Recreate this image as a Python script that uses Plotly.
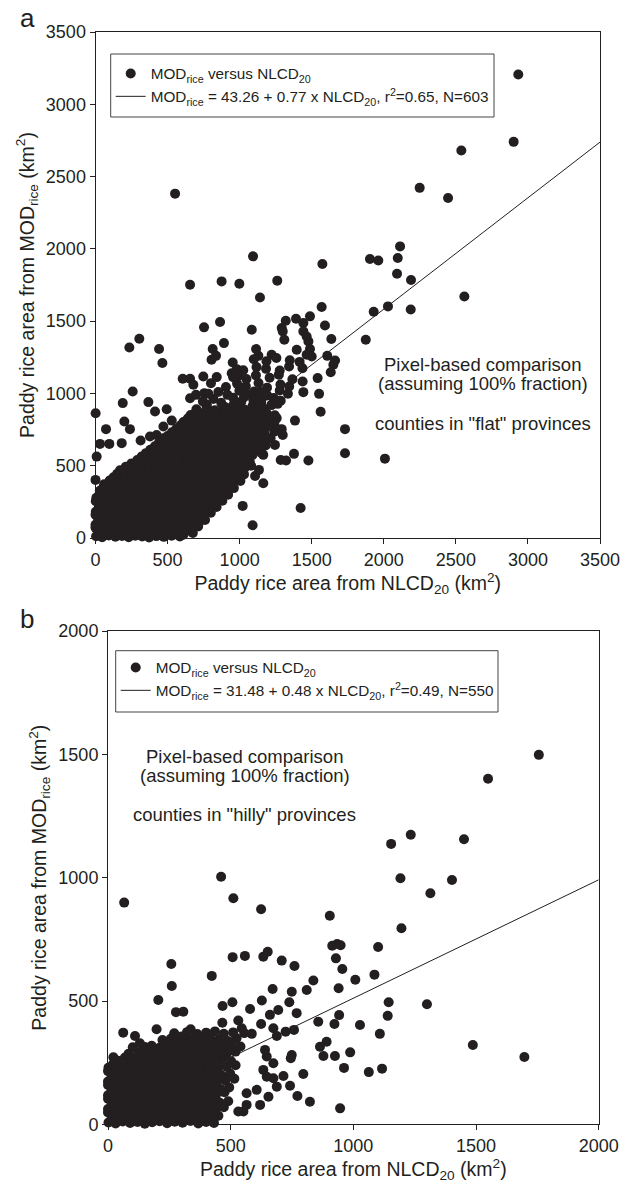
import plotly.graph_objects as go

# ---------------- data: panel a ("flat" provinces) ----------------
# NLCD20 (x) and MODrice (y) areas, km2 - isolated points
a_sparse_x = [2933, 2901, 2538, 2249, 2446, 552, 2113, 1904, 1962, 2097, 1093, 1574, 2092, 2189, 2559, 1930,
              2029, 2187, 1875, 1731, 1731, 2008,
              656, 875, 998, 1261, 1141, 1569, 1320, 1391, 1488, 1442, 1292, 1592, 1084, 864, 753, 304, 235,
              441, 464, 891, 813, 836, 805, 1114, 1130, 1222, 1299, 1310, 1442, 1465, 1477, 1488, 1465, 1500,
              1396, 1608, 1662, 1650, 1632, 1636, 1541, 1551, 1562, 1437, 1442, 1384, 1377, 1285, 1322, 1477,
              1423, 1090, 1021, 760, 1164, 1134, 1107, 1245, 1164, 1264, 1285, 1299,
              1, 8, 0, 73, 31, 96, 189, 200, 239, 258, 182, 367, 413, 494, 529, 471, 313, 378, 424, 471, 552, 649,
              605, 656, 679, 656, 697, 755, 783, 748, 801, 841, 952, 980, 945, 991, 1100, 1130, 1164, 1030, 980,
              945, 887, 898, 921, 910, 933, 980, 1014, 1049, 1095, 1141, 1164, 1141, 1130, 1257, 1292, 1188,
              1222, 1245, 1222, 771]
a_sparse_y = [3206, 2740, 2680, 2422, 2352, 2382, 2017, 1930, 1920, 1937, 1948, 1895, 1828, 1784, 1671, 1565,
              1602, 1581, 1371, 753, 586, 549,
              1752, 1775, 1759, 1780, 1664, 1598, 1503, 1517, 1533, 1487, 1452, 1470, 1440, 1494, 1457, 1378, 1318,
              1307, 1210, 1348, 1307, 1260, 1233, 1307, 1260, 1267, 1429, 1371, 1429, 1394, 1360, 1307, 1267, 1256,
              1302, 1260, 1228, 1198, 1147, 1376, 1106, 997, 873, 1083, 1009, 812, 582, 540, 536, 536,
              208, 88, 222, 125, 379, 471, 429, 644, 575, 928, 748, 713,
              863, 563, 402, 753, 651, 651, 933, 806, 753, 1013, 656, 940, 875, 891, 812, 771, 674, 702, 713, 690, 729, 771,
              1101, 1101, 1060, 967, 990, 1002, 998, 1117, 1071, 1113, 1214, 1168, 1140, 1122, 1013, 990, 979, 974, 914,
              875, 909, 840, 794, 725, 679, 609, 656, 690, 748, 725, 702, 812, 886, 829, 753, 863,
              806, 956, 921, 921]

# dense cloud near the origin and along the fitted line
a_dense_x = [
    4, 46, 92, 138, 184, 230, 276, 324, 372, 422, 474, 528, 585,
    22, 68, 114, 160, 206, 252, 300, 348, 398, 450, 504, 560, 618, 675,
    0, 42, 88, 134, 180, 228, 276, 324, 374, 426, 480, 536, 594, 655, 712,
    18, 64, 110, 156, 204, 252, 300, 350, 402, 454, 508, 564, 622, 684, 745, 800,
    2, 44, 90, 136, 184, 232, 282, 332, 384, 436, 490, 546, 604, 664, 726, 790, 840,
    24, 70, 116, 164, 212, 262, 312, 364, 416, 470, 524, 580, 638, 698, 760, 822, 880,
    6, 50, 96, 144, 192, 242, 292, 344, 396, 450, 504, 560, 618, 678, 740, 802, 866, 920,
    30, 78, 126, 174, 224, 274, 326, 378, 432, 486, 542, 600, 660, 722, 784, 848, 910, 960,
    60, 108, 156, 206, 256, 308, 360, 414, 468, 524, 580, 640, 700, 762, 826, 890, 950, 1005,
    125, 176, 228, 280, 332, 386, 440, 494, 550, 606, 664, 722, 782, 844, 906, 966, 1030,
    170, 224, 278, 332, 386, 440, 496, 552, 608, 666, 724, 784, 846, 908, 970, 1035, 1080,
    250, 305, 360, 416, 472, 528, 586, 644, 702, 762, 822, 884, 946, 1008, 1070,
    320, 376, 432, 490, 548, 606, 664, 722, 782, 842, 904, 966, 1028, 1090, 1150,
    380, 438, 496, 554, 612, 670, 730, 790, 850, 912, 974, 1036, 1098, 1180,
    440, 498, 556, 614, 672, 732, 792, 852, 914, 976, 1038, 1100, 1160, 1215,
    500, 558, 616, 676, 736, 796, 858, 920, 982, 1046, 1110, 1172, 1240,
    560, 620, 680, 740, 802, 864, 926, 990, 1054, 1118, 1182, 1245,
    610, 672, 734, 796, 860, 924, 988, 1052, 1116, 1180, 1245,
    660, 724, 788, 852, 918, 984, 1050, 1114, 1180, 1244,
    700, 772, 828, 901, 958, 1035, 1090, 1168, 1222,
    745, 818, 872, 955, 1012, 1094, 1150, 1236, 1285,
    852, 915, 998, 1052, 1138, 1192, 1278, 1335,
    905, 982, 1043, 1131, 1190, 1283, 1344,
    955, 1047, 1113, 1208, 1272, 1366,
    1025, 1117, 1183, 1278, 1343, 1436,
    1098, 1186, 1255, 1348, 1416]
a_dense_y = [
    12, 6, 18, 9, 14, 5, 16, 10, 4, 13, 8, 15, 10,
    48, 55, 44, 52, 58, 46, 51, 43, 56, 49, 53, 45, 40, 35,
    92, 100, 94, 88, 101, 96, 90, 99, 93, 87, 98, 91, 96, 88, 80,
    138, 146, 136, 142, 148, 137, 144, 135, 147, 140, 133, 145, 139, 150, 142, 175,
    182, 190, 186, 180, 192, 184, 178, 189, 183, 193, 181, 187, 179, 191, 185, 196, 215,
    230, 236, 228, 239, 231, 226, 237, 233, 240, 229, 235, 227, 238, 232, 241, 236, 258,
    278, 284, 276, 287, 281, 274, 286, 279, 283, 275, 288, 280, 285, 277, 282, 289, 284, 300,
    326, 332, 324, 335, 329, 322, 334, 327, 331, 323, 336, 328, 333, 325, 330, 337, 332, 345,
    372, 380, 374, 368, 379, 371, 382, 375, 369, 381, 373, 378, 370, 383, 376, 372, 380, 395,
    420, 428, 418, 425, 431, 419, 427, 422, 416, 430, 421, 426, 417, 429, 423, 432, 440,
    468, 474, 466, 477, 470, 464, 476, 469, 473, 465, 478, 471, 467, 475, 470, 485, 500,
    516, 522, 514, 525, 518, 512, 524, 517, 521, 513, 526, 519, 515, 523, 530,
    563, 570, 560, 568, 574, 562, 569, 566, 572, 561, 567, 573, 564, 575, 590,
    610, 617, 608, 615, 620, 611, 618, 607, 614, 619, 612, 616, 625, 640,
    658, 664, 656, 667, 660, 655, 666, 659, 663, 657, 668, 661, 670, 690,
    706, 712, 704, 715, 709, 703, 714, 707, 711, 705, 716, 720, 735,
    754, 760, 752, 763, 757, 751, 762, 755, 759, 753, 764, 770,
    802, 808, 800, 811, 805, 799, 810, 803, 807, 801, 812,
    850, 856, 848, 859, 853, 847, 858, 851, 855, 849,
    890, 912, 884, 905, 922, 889, 915, 896, 920,
    945, 962, 936, 970, 944, 958, 935, 968, 950,
    1010, 990, 1018, 995, 1012, 986, 1020, 998,
    1045, 1068, 1050, 1072, 1040, 1062, 1048,
    1112, 1100, 1125, 1108, 1130, 1098,
    1160, 1182, 1170, 1158, 1186, 1174,
    1236, 1222, 1245, 1230, 1218]

# further points packed inside the solid part of the cloud
a_fill_x = [
    25, 70, 115, 160, 207, 253, 300, 348, 397, 448, 500, 556, 610,
    0, 45, 90, 137, 183, 230, 277, 325, 374, 424, 476, 530, 586, 640,
    20, 65, 111, 157, 204, 250, 298, 347, 396, 448, 500, 552, 608, 665, 720,
    0, 42, 87, 133, 180, 228, 276, 325, 376, 428, 480, 534, 590, 650, 710, 770,
    22, 67, 113, 160, 207, 256, 306, 357, 410, 462, 516, 572, 630, 692, 752, 815,
    2, 47, 93, 140, 188, 236, 286, 337, 390, 443, 497, 552, 608, 666, 728, 790, 850,
    28, 74, 120, 168, 217, 268, 318, 370, 423, 476, 530, 586, 644, 705, 768, 832, 893,
    55, 102, 150, 200, 250, 300, 352, 404, 457, 512, 568, 625, 685, 748, 812, 875, 935,
    98, 150, 202, 254, 306, 360, 413, 468, 523, 580, 638, 698, 760, 822, 885, 950,
    150, 202, 254, 306, 360, 413, 468, 523, 580, 637, 696, 754, 815, 876, 938, 1000,
    210, 262, 316, 370, 424, 478, 534, 590, 648, 706, 766, 826, 888, 950, 1012,
    290, 346, 404, 460, 518, 576, 634, 692, 752, 812, 874, 936, 998, 1060,
    350, 408, 466, 524, 582, 640, 698, 758, 818, 880, 942, 1004, 1066,
    412, 470, 528, 586, 644, 702, 762, 822, 884, 946, 1008, 1070, 1130,
    470, 530, 590, 650, 710, 770, 830, 892, 954, 1016, 1078, 1140,
    530, 590, 650, 710, 770, 832, 894, 956, 1018, 1082, 1146,
    590, 652, 714, 776, 838, 900, 962, 1026, 1090, 1152,
    640, 704, 768, 832, 896, 960, 1024, 1088, 1150,
    700, 764, 828, 892, 956, 1020, 1084, 1148]
a_fill_y = [
    30, 26, 33, 28, 24, 31, 27, 34, 29, 25, 32, 28, 22,
    72, 75, 69, 74, 70, 77, 71, 68, 76, 73, 70, 74, 68, 64,
    117, 121, 114, 119, 123, 115, 120, 113, 122, 116, 119, 114, 120, 112, 110,
    161, 165, 158, 163, 167, 159, 164, 157, 166, 160, 163, 158, 165, 160, 168, 175,
    207, 211, 204, 210, 214, 205, 212, 206, 209, 203, 213, 207, 211, 205, 215, 220,
    255, 259, 252, 258, 262, 253, 260, 254, 257, 251, 261, 256, 259, 253, 262, 258, 270,
    303, 307, 300, 306, 310, 301, 308, 302, 305, 299, 309, 303, 307, 301, 310, 305, 315,
    351, 356, 348, 354, 358, 349, 356, 350, 353, 347, 357, 351, 355, 349, 358, 353, 362,
    397, 402, 395, 400, 405, 396, 403, 397, 401, 394, 404, 398, 402, 396, 405, 410,
    445, 450, 442, 448, 452, 443, 450, 444, 448, 441, 451, 446, 449, 443, 452, 458,
    493, 498, 490, 496, 500, 491, 498, 492, 495, 489, 499, 494, 497, 491, 500,
    540, 545, 537, 543, 547, 538, 545, 539, 542, 536, 546, 540, 544, 550,
    587, 592, 584, 590, 594, 585, 592, 586, 589, 583, 593, 587, 595,
    635, 640, 632, 638, 642, 633, 640, 634, 637, 631, 641, 636, 645,
    683, 688, 680, 686, 690, 681, 688, 682, 685, 679, 689, 694,
    731, 736, 728, 734, 738, 729, 736, 730, 733, 727, 737,
    779, 784, 776, 782, 786, 777, 784, 778, 781, 775,
    827, 832, 824, 830, 834, 825, 832, 826, 829,
    875, 880, 872, 878, 882, 873, 880, 874]

a_intercept, a_slope = 43.26, 0.77
a_range = [0, 3500]
a_ticks = [0, 500, 1000, 1500, 2000, 2500, 3000, 3500]

# ---------------- data: panel b ("hilly" provinces) ----------------
b_sparse_x = [1756, 1549, 1234, 1154, 1451, 1192, 1402, 1314, 1196, 1101, 1086, 1008, 955, 940, 942, 1144,
              1140, 1300, 1027, 1108, 1487, 1697, 987, 962, 1063, 1117, 946,
              66, 461, 511, 624, 904,
              914, 934, 948, 929, 923, 508, 558, 633, 651, 708, 760, 837, 810, 749, 671, 627, 739, 694, 660, 769,
              258, 260, 205, 423, 277, 307, 467, 507, 579, 466, 531, 545, 624, 674, 758, 724, 688, 586,
              62, 110, 198, 300, 337, 101, 130, 22, 69, 103, 857, 891, 864, 878, 925, 796, 772, 823, 742, 715,
              749, 745, 674, 688, 654, 620, 606, 565, 565, 552, 531, 647, 633, 647, 674, 640]
b_sparse_y = [1498, 1401, 1174, 1137, 1156, 998, 991, 937, 795, 719, 607, 586, 630, 552, 443, 495,
              440, 487, 403, 367, 322, 273, 292, 229, 212, 226, 65,
              899, 1004, 917, 872, 846,
              724, 731, 726, 673, 407, 678, 683, 680, 700, 664, 642, 583, 545, 538, 549, 502, 495, 464, 444, 451,
              650, 561, 504, 602, 455, 457, 480, 495, 468, 412, 421, 390, 407, 390, 383, 376, 358, 367,
              372, 358, 386, 356, 386, 313, 329, 272, 271, 264, 416, 335, 315, 277, 277, 204, 115, 92, 157, 196,
              281, 268, 187, 153, 112, 79, 140, 126, 79, 52, 52, 275, 221, 193, 248, 302]

b_dense_x = [
    2, 31, 60, 90, 120, 150, 180, 210, 241, 272, 304, 336, 368, 400, 432,
    16, 46, 76, 106, 136, 166, 196, 227, 258, 289, 320, 352, 384, 416, 450,
    0, 30, 60, 90, 121, 152, 183, 214, 245, 276, 308, 340, 372, 405, 438, 472,
    14, 44, 74, 105, 136, 167, 198, 229, 260, 292, 324, 356, 389, 422, 456, 490,
    0, 29, 59, 90, 120, 151, 182, 213, 244, 276, 308, 340, 373, 406, 440, 475,
    14, 44, 75, 106, 137, 168, 199, 230, 262, 294, 326, 358, 391, 424, 458, 494,
    0, 29, 60, 91, 122, 153, 184, 215, 247, 279, 311, 343, 376, 409, 443, 478, 515,
    15, 45, 76, 107, 138, 169, 200, 232, 264, 296, 328, 361, 394, 428, 462, 498,
    2, 32, 62, 93, 124, 155, 186, 218, 250, 282, 314, 347, 380, 414, 448, 484, 520,
    40, 78, 112, 143, 174, 205, 236, 268, 300, 332, 365, 398, 432, 466, 502,
    84, 125, 160, 192, 223, 254, 286, 318, 350, 383, 416, 450, 485, 520,
    150, 178, 210, 242, 274, 306, 338, 370, 403, 436, 470, 505, 540,
    222, 256, 288, 320, 352, 385, 418, 452, 488, 524,
    270, 322, 364, 400, 436, 472, 510, 555]
b_dense_y = [
    8, 4, 12, 6, 10, 3, 9, 13, 5, 11, 7, 14, 4, 10, 6,
    35, 40, 31, 38, 33, 42, 36, 30, 39, 34, 41, 32, 37, 43, 35,
    62, 66, 58, 64, 69, 60, 67, 61, 65, 57, 68, 63, 59, 66, 61, 70,
    90, 95, 87, 93, 98, 88, 94, 91, 86, 97, 89, 96, 92, 99, 88, 94,
    118, 122, 115, 124, 119, 114, 125, 117, 121, 113, 126, 118, 123, 116, 124, 130,
    146, 151, 143, 149, 154, 144, 150, 147, 142, 153, 145, 152, 148, 155, 144, 150,
    174, 179, 171, 177, 182, 172, 178, 175, 170, 181, 173, 180, 176, 183, 172, 178, 185,
    202, 207, 199, 205, 210, 200, 206, 203, 198, 209, 201, 208, 204, 211, 200, 206,
    230, 235, 227, 233, 238, 228, 234, 231, 226, 237, 229, 236, 232, 239, 228, 234, 240,
    258, 262, 255, 261, 266, 256, 262, 259, 254, 265, 257, 264, 260, 267, 256,
    286, 291, 283, 289, 294, 284, 290, 287, 282, 293, 285, 292, 288, 295,
    314, 319, 311, 317, 322, 312, 318, 315, 310, 321, 313, 320, 316,
    342, 347, 339, 345, 350, 340, 346, 343, 338, 349,
    369, 374, 366, 372, 377, 367, 373, 370]

b_fill_x = [
    16, 46, 76, 106, 136, 166, 196, 226, 257, 288, 320, 352, 384, 416,
    0, 30, 61, 91, 121, 151, 182, 212, 243, 274, 305, 337, 368, 400, 433,
    15, 45, 75, 106, 137, 168, 199, 230, 261, 292, 324, 356, 388, 421, 455,
    0, 29, 59, 90, 120, 151, 182, 213, 244, 276, 308, 340, 372, 405, 439,
    14, 44, 75, 106, 137, 168, 199, 230, 262, 294, 326, 358, 391, 424, 458,
    0, 29, 59, 90, 121, 152, 183, 214, 246, 278, 310, 342, 375, 408, 442,
    14, 44, 75, 106, 137, 168, 199, 231, 263, 295, 327, 360, 393, 426, 460,
    0, 30, 61, 92, 123, 154, 185, 217, 249, 281, 313, 346, 379, 412, 446,
    20, 60, 96, 128, 159, 190, 221, 253, 285, 317, 349, 382, 415, 449,
    100, 143, 176, 207, 238, 270, 302, 334, 366, 399, 432, 466,
    170, 206, 238, 270, 302, 334, 366, 399, 432, 466, 502,
    240, 272, 304, 336, 368, 401, 434, 468, 505]
b_fill_y = [
    21, 24, 18, 23, 26, 19, 22, 25, 17, 24, 20, 26, 22, 19,
    48, 52, 45, 50, 54, 46, 51, 47, 53, 44, 50, 55, 47, 52, 49,
    76, 80, 73, 78, 82, 74, 79, 75, 81, 72, 78, 83, 75, 80, 77,
    104, 108, 101, 106, 110, 102, 107, 103, 109, 100, 106, 111, 103, 108, 105,
    132, 136, 129, 134, 138, 130, 135, 131, 137, 128, 134, 139, 131, 136, 133,
    160, 164, 157, 162, 166, 158, 163, 159, 165, 156, 162, 167, 159, 164, 161,
    188, 192, 185, 190, 194, 186, 191, 187, 193, 184, 190, 195, 187, 192, 189,
    216, 220, 213, 218, 222, 214, 219, 215, 221, 212, 218, 223, 215, 220, 217,
    244, 248, 241, 246, 250, 242, 247, 243, 249, 240, 246, 251, 243, 248,
    272, 276, 269, 274, 278, 270, 275, 271, 277, 268, 274, 279,
    300, 304, 297, 302, 306, 298, 303, 299, 305, 296, 302,
    328, 332, 325, 330, 334, 326, 331, 327, 333]

b_intercept, b_slope = 31.48, 0.48
b_range = [0, 2000]
b_ticks = [0, 500, 1000, 1500, 2000]

# ---------------- text ----------------
pt_name = "MOD<sub>rice</sub> versus NLCD<sub>20</sub>"
a_fit_name = "MOD<sub>rice</sub> = 43.26 + 0.77 x NLCD<sub>20</sub>, r<sup>2</sup>=0.65, N=603"
b_fit_name = "MOD<sub>rice</sub> = 31.48 + 0.48 x NLCD<sub>20</sub>, r<sup>2</sup>=0.49, N=550"
x_title = "Paddy rice area from NLCD<sub>20</sub> (km<sup>2</sup>)"
y_title = "Paddy rice area from MOD<sub>rice</sub> (km<sup>2</sup>)"
a_note = ["Pixel-based comparison", "(assuming 100% fraction)", "counties in \"flat\" provinces"]
b_note = ["Pixel-based comparison", "(assuming 100% fraction)", "counties in \"hilly\" provinces"]

# ---------------- figure ----------------
W, H = 634, 1184
FONT = "Liberation Sans, Arial, Helvetica, sans-serif"
INK = "#231f20"
MSIZE = 10


def fx(px):
    return px / W


def fy(py):
    return 1 - py / H


fig = go.Figure()

a_fit_y = [a_intercept + a_slope * v for v in a_range]
b_fit_y = [b_intercept + b_slope * v for v in b_range]

fig.add_trace(go.Scatter(x=a_range, y=a_fit_y, mode="lines", name=a_fit_name,
                         line=dict(color=INK, width=1), xaxis="x", yaxis="y",
                         legend="legend", legendrank=2))
fig.add_trace(go.Scatter(x=a_sparse_x + a_dense_x + a_fill_x, y=a_sparse_y + a_dense_y + a_fill_y,
                         mode="markers", name=pt_name,
                         marker=dict(size=MSIZE, color=INK, line=dict(width=0)),
                         cliponaxis=False, xaxis="x", yaxis="y", legend="legend", legendrank=1))
fig.add_trace(go.Scatter(x=b_range, y=b_fit_y, mode="lines", name=b_fit_name,
                         line=dict(color=INK, width=1), xaxis="x2", yaxis="y2",
                         legend="legend2", legendrank=2))
fig.add_trace(go.Scatter(x=b_sparse_x + b_dense_x + b_fill_x, y=b_sparse_y + b_dense_y + b_fill_y,
                         mode="markers", name=pt_name,
                         marker=dict(size=MSIZE, color=INK, line=dict(width=0)),
                         cliponaxis=False, xaxis="x2", yaxis="y2", legend="legend2", legendrank=1))

axis_common = dict(showline=True, linecolor=INK, linewidth=1, mirror=True, ticks="outside",
                   ticklen=5, tickwidth=1, tickcolor=INK, showgrid=False, zeroline=False,
                   tickfont=dict(size=18, color=INK, family=FONT))
title_font = dict(size=19.5, color=INK, family=FONT)
legend_font = dict(size=15.3, color=INK, family=FONT)

fig.update_layout(
    width=W, height=H, margin=dict(l=0, r=0, t=0, b=0),
    paper_bgcolor="white", plot_bgcolor="white", template="none",
    font=dict(family=FONT, color=INK),
    xaxis=dict(domain=[fx(95.5), fx(600)], range=a_range, tickvals=a_ticks, anchor="y",
               title=dict(text=x_title, font=title_font, standoff=7), **axis_common),
    yaxis=dict(domain=[fy(538), fy(32)], range=a_range, tickvals=a_ticks, anchor="x",
               title=dict(text=y_title, font=title_font, standoff=6), **axis_common),
    xaxis2=dict(domain=[fx(108), fx(598.7)], range=b_range, tickvals=b_ticks, anchor="y2",
                title=dict(text=x_title, font=title_font, standoff=5), **axis_common),
    yaxis2=dict(domain=[fy(1124.4), fy(631)], range=b_range, tickvals=b_ticks, anchor="x2",
                title=dict(text=y_title, font=title_font, standoff=6), **axis_common),
    legend=dict(x=fx(110.7), y=fy(57), xanchor="left", yanchor="top", bgcolor="rgba(0,0,0,0)",
                borderwidth=0, font=legend_font, tracegroupgap=0),
    legend2=dict(x=fx(115.7), y=fy(651), xanchor="left", yanchor="top", bgcolor="rgba(0,0,0,0)",
                 borderwidth=0, font=legend_font, tracegroupgap=0),
    showlegend=True,
)

# legend frames
frames = [(110.7, 54, 494, 117), (115.7, 650.7, 498, 712)]
fig.update_layout(shapes=[dict(type="rect", xref="paper", yref="paper", x0=fx(l), x1=fx(r),
                               y0=fy(b), y1=fy(t), line=dict(color="#444", width=1),
                               fillcolor="rgba(0,0,0,0)", layer="above")
                          for (l, t, r, b) in frames])

annotations = [
    dict(text="a", x=fx(18), y=fy(18), xanchor="left", yanchor="middle", font=dict(size=26)),
    dict(text="b", x=fx(18), y=fy(619), xanchor="left", yanchor="middle", font=dict(size=26)),
]
for txt, py in zip(a_note, [364.3, 383.3, 423.3]):
    annotations.append(dict(text=txt, x=fx(482.7), y=fy(py), xanchor="center", yanchor="middle",
                            font=dict(size=18.5)))
for txt, py in zip(b_note, [756.7, 775.5, 814]):
    annotations.append(dict(text=txt, x=fx(244.5), y=fy(py), xanchor="center", yanchor="middle",
                            font=dict(size=18.5)))
for ann in annotations:
    ann.update(xref="paper", yref="paper", showarrow=False)
    ann["font"].update(family=FONT, color=INK)
fig.update_layout(annotations=annotations)

fig.write_html("out.html")
